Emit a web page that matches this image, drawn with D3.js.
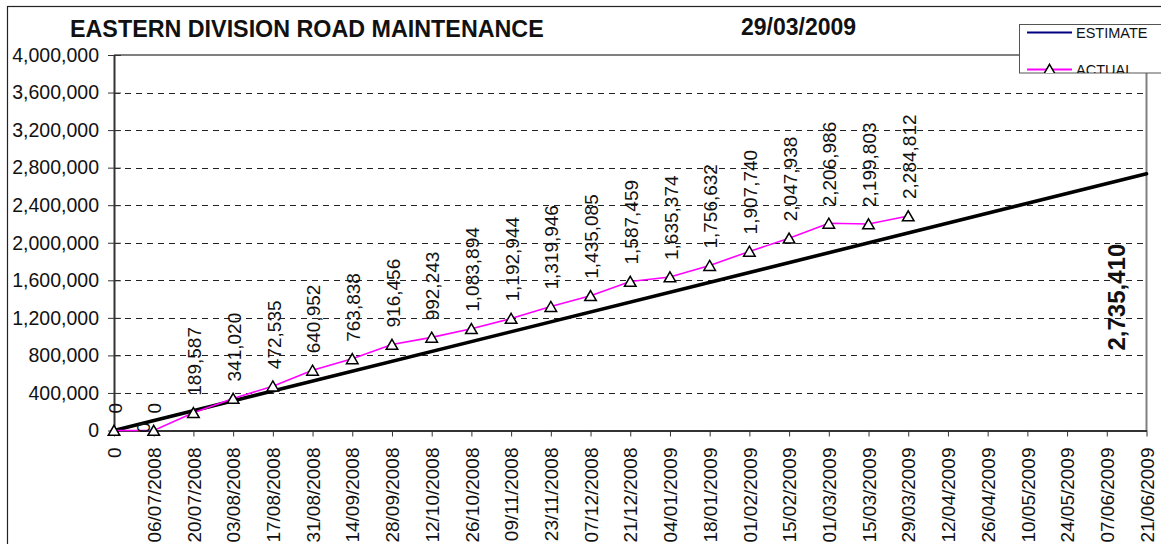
<!DOCTYPE html>
<html>
<head>
<meta charset="utf-8">
<script src="https://cdn.jsdelivr.net/npm/d3@7"></script>
<style>
  html, body { margin: 0; padding: 0; background: #fff; }
  svg { display: block; }
  text { font-family: "Liberation Sans", Arial, sans-serif; fill: #111; }
</style>
</head>
<body>
<svg id="chart" width="1161" height="544"></svg>
<script>
// ---- data ----
const categories = ["0","06/07/2008","20/07/2008","03/08/2008","17/08/2008","31/08/2008",
  "14/09/2008","28/09/2008","12/10/2008","26/10/2008","09/11/2008","23/11/2008",
  "07/12/2008","21/12/2008","04/01/2009","18/01/2009","01/02/2009","15/02/2009",
  "01/03/2009","15/03/2009","29/03/2009","12/04/2009","26/04/2009","10/05/2009",
  "24/05/2009","07/06/2009","21/06/2009"];
const actualValues = [0, 0, 189587, 341020, 472535, 640952, 763838, 916456, 992243,
  1083894, 1192944, 1319946, 1435085, 1587459, 1635374, 1756632, 1907740, 2047938,
  2206986, 2199803, 2284812];
const estimateCategories = ["0", "21/06/2009"];
const estimateValues = [0, 2735410];
const yTicks = [0, 400000, 800000, 1200000, 1600000, 2000000, 2400000, 2800000, 3200000, 3600000, 4000000];
const titleText = "EASTERN DIVISION ROAD MAINTENANCE";
const dateText = "29/03/2009";
const seriesNames = ["ESTIMATE", "ACTUAL"];

// ---- layout ----
const svg = d3.select("#chart");
const L = 114, R = 1146.5, T = 55, B = 430.5;
const x = d3.scalePoint().domain(categories).range([L, R]);
const y = d3.scaleLinear().domain([0, 4000000]).range([B, T]);
const fmt = d3.format(",");

// outer chart frame
svg.append("rect").attr("x", 7.5).attr("y", 6.5).attr("width", 1200).attr("height", 600)
  .attr("fill", "none").attr("stroke", "#222").attr("stroke-width", 1.2);

// title
svg.append("text").attr("x", 70).attr("y", 37).attr("font-size", 23.3).attr("font-weight", "bold").text(titleText);
svg.append("text").attr("x", 741).attr("y", 35).attr("font-size", 23).attr("font-weight", "bold").text(dateText);

// gridlines
svg.append("g").selectAll("line").data(yTicks.filter(d => d > 0 && d < 4000000)).join("line")
  .attr("x1", L).attr("x2", R).attr("y1", d => Math.round(y(d)) + 0.5).attr("y2", d => Math.round(y(d)) + 0.5)
  .attr("stroke", "#222").attr("stroke-width", 1).attr("stroke-dasharray", "6,5");

// plot area border (top and right)
svg.append("path").attr("d", `M${L},${T} H${R} V${B}`).attr("fill", "none")
  .attr("stroke", "#808080").attr("stroke-width", 2);

// y axis
const yAxis = svg.append("g").attr("transform", `translate(${L},0)`)
  .call(d3.axisLeft(y).tickValues(yTicks).tickFormat(fmt).tickSizeInner(6).tickSizeOuter(0).tickPadding(9));
yAxis.select(".domain").attr("stroke", "#333").attr("stroke-width", 2);
yAxis.selectAll(".tick line").attr("stroke", "#333").attr("x2", -6).attr("x1", 7);
yAxis.selectAll(".tick text").attr("font-size", 19.5).attr("fill", "#111")
  .attr("font-family", "'Liberation Sans', Arial, sans-serif");

// x axis
const xAxis = svg.append("g").attr("transform", `translate(0,${B})`)
  .call(d3.axisBottom(x).tickSizeInner(6).tickSizeOuter(0).tickPadding(0));
xAxis.select(".domain").attr("stroke", "#333").attr("stroke-width", 2);
xAxis.selectAll(".tick line").attr("stroke", "#333");
xAxis.selectAll(".tick text")
  .attr("font-size", 19).attr("fill", "#111").attr("font-family", "'Liberation Sans', Arial, sans-serif")
  .attr("text-anchor", "end").attr("transform", "translate(0,17) rotate(-90)")
  .attr("x", 0).attr("y", 0).attr("dy", "0.35em");

// estimate line
const estPts = estimateCategories.map((c, i) => [x(c), y(estimateValues[i])]);
svg.append("path").attr("d", d3.line()(estPts)).attr("fill", "none")
  .attr("stroke", "#000").attr("stroke-width", 3.6).attr("stroke-linecap", "round");

// actual line
const actPts = actualValues.map((v, i) => [x(categories[i]), y(v)]);
svg.append("path").attr("d", d3.line()(actPts)).attr("fill", "none")
  .attr("stroke", "#ff00ff").attr("stroke-width", 1.6);

// stray zero label (as in original)
svg.append("text").attr("transform", `translate(${x(categories[1]) - 10},${y(0) - 3}) rotate(-90)`)
  .attr("text-anchor", "middle").attr("dy", "0.35em").attr("font-size", 19).text("0");

// markers
const tri = d3.symbol().type(d3.symbolTriangle).size(58);
svg.append("g").selectAll("path").data(actPts).join("path")
  .attr("d", tri).attr("transform", d => `translate(${d[0]},${d[1] + 1.5})`)
  .attr("fill", "#fff").attr("stroke", "#000").attr("stroke-width", 1.5);

// data labels
svg.append("g").selectAll("text").data(actualValues).join("text")
  .attr("transform", (d, i) => `translate(${x(categories[i]) + 1},${y(d) - 17}) rotate(-90)`)
  .attr("dy", "0.35em").attr("font-size", 19).attr("text-anchor", "start")
  .text(d => fmt(d));

// estimate end label
svg.append("text")
  .attr("transform", `translate(${x(estimateCategories[1]) - 30},${(y(estimateValues[1]) + B) / 2 - 5}) rotate(-90)`)
  .attr("text-anchor", "middle").attr("dy", "0.35em").attr("font-size", 24).attr("font-weight", "bold")
  .text(fmt(estimateValues[1]));

// legend
const lg = svg.append("g");
svg.append("clipPath").attr("id", "lgclip").append("rect")
  .attr("x", 1019.5).attr("y", 24.5).attr("width", 200).attr("height", 48.5);
lg.append("rect").attr("x", 1019.5).attr("y", 24.5).attr("width", 200).attr("height", 48.5)
  .attr("fill", "#fff").attr("stroke", "#555").attr("stroke-width", 1);
const lgi = lg.append("g").attr("clip-path", "url(#lgclip)");
lgi.append("line").attr("x1", 1027).attr("x2", 1072).attr("y1", 32.5).attr("y2", 32.5)
  .attr("stroke", "#000080").attr("stroke-width", 2);
lgi.append("text").attr("x", 1076).attr("y", 37.5).attr("font-size", 14.5).text(seriesNames[0]);
lgi.append("line").attr("x1", 1027).attr("x2", 1072).attr("y1", 69.5).attr("y2", 69.5)
  .attr("stroke", "#ff00ff").attr("stroke-width", 2);
lgi.append("path").attr("d", tri).attr("transform", "translate(1049.5,71)")
  .attr("fill", "#fff").attr("stroke", "#000").attr("stroke-width", 1.5);
lgi.append("text").attr("x", 1076).attr("y", 74.5).attr("font-size", 14.5).text(seriesNames[1]);
</script>
</body>
</html>
